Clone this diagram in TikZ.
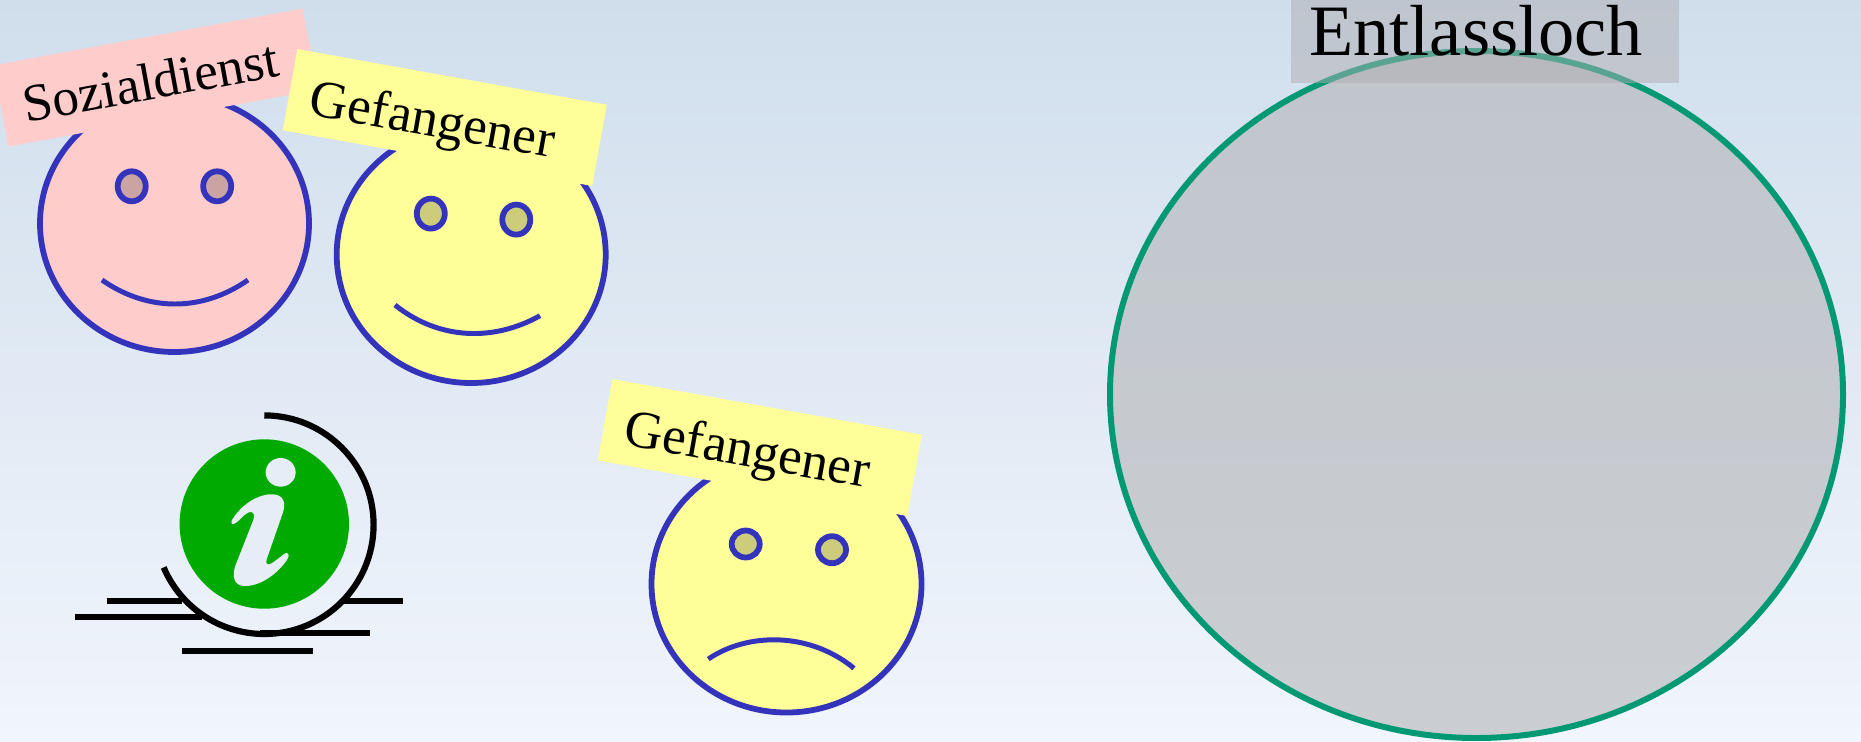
\documentclass[tikz,border=0pt]{standalone}
\usepackage{fontspec}
\setmainfont{Liberation Serif}
\definecolor{skytop}{RGB}{208,222,236}
\definecolor{skybottom}{RGB}{241,245,252}
\definecolor{faceline}{RGB}{51,51,187}
\definecolor{pinkface}{RGB}{255,204,204}
\definecolor{pinkeye}{RGB}{204,163,163}
\definecolor{yellowface}{RGB}{255,255,153}
\definecolor{yelloweye}{RGB}{204,204,122}
\definecolor{holeline}{RGB}{0,153,115}
\definecolor{holefill}{RGB}{183,185,188}
\definecolor{holetag}{RGB}{176,174,178}
\definecolor{infogreen}{RGB}{0,170,0}
\definecolor{infoglyph}{RGB}{231,237,247}

\begin{document}
\begin{tikzpicture}[x=0.02cm,y=-0.02cm,
  face/.style={draw=faceline,line width=5.8*0.5669pt},
  mouth/.style={draw=faceline,line width=5*0.5669pt},
  tag/.style={rotate=#1,inner xsep=12.5pt,inner ysep=0pt,text width=154pt,align=left,
    text height=35.5pt,text depth=11.5pt,font=\fontsize{30.2}{30.2}\selectfont},
  infoline/.style={line width=6.2*0.5669pt}]
  \useasboundingbox (0,0) rectangle (1861,741);
  \shade[top color=skytop,bottom color=skybottom] (0,0) rectangle (1861,741);

  \coordinate (P) at (174.5,223.5);
  \coordinate (Y) at (471.2,254.5);
  \coordinate (S) at (786.5,584);
  \coordinate (H) at (1476.5,394.5);
  \coordinate (I) at (264.3,524.7);

  \draw[face,fill=pinkface] (P) circle [x radius=134.5,y radius=128.5];
  \draw[face,fill=pinkeye] (131.7,186.3) circle [x radius=14,y radius=15];
  \draw[face,fill=pinkeye] (217.2,186.3) circle [x radius=14,y radius=15];
  \draw[mouth] (102,280) .. controls (148,312) and (202,312) .. (248,280);
  \node[tag=10.4,fill=pinkface] (sozial) at (155.5,77.5) {Sozialdienst};

  \draw[face,fill=yellowface] (Y) circle [x radius=134.5,y radius=128.5];
  \draw[face,fill=yelloweye] (430.8,213.6) circle [x radius=14,y radius=15];
  \draw[face,fill=yelloweye] (516.3,219.6) circle [x radius=14,y radius=15];
  \draw[mouth] (395,305) .. controls (440,341) and (495,341) .. (540,315.7);
  \node[tag=-10.2,fill=yellowface] (happy) at (444.8,117.5) {Gefangener};

  \draw[face,fill=yellowface] (S) circle [x radius=135,y radius=128.5];
  \draw[face,fill=yelloweye] (745.7,544) circle [x radius=14,y radius=13.5];
  \draw[face,fill=yelloweye] (832,549.7) circle [x radius=14,y radius=13.5];
  \draw[mouth] (708.3,659) .. controls (748,632) and (810,632) .. (854,668.3);
  \node[tag=-10.2,fill=yellowface] (sad) at (759.8,447.5) {Gefangener};

  \draw[draw=holeline,line width=6*0.5669pt,fill=holefill,fill opacity=.65,draw opacity=1]
    (H) circle [x radius=366.5,y radius=343.5];
  \node[fill=holetag,fill opacity=.5,text opacity=1,inner xsep=10.3pt,inner ysep=0pt,
    text width=200pt,align=left,text height=31.7pt,text depth=15.2pt,
    font=\fontsize{41.2}{41.2}\selectfont] (hole) at (1485,41.3) {Entlassloch};

  \fill[infogreen] (264.3,524) circle [radius=84.7];
  \draw[infoline] (I) ++(-90:109.3) arc [start angle=-90,end angle=157,radius=109.3];
  \draw[infoline] (106.7,601.3) -- (181.7,601.3);
  \draw[infoline] (343,601.3) -- (403.3,601.3);
  \draw[infoline] (75,616.7) -- (201.7,616.7);
  \draw[infoline] (260,633.3) -- (370,633.3);
  \draw[infoline] (182,651) -- (313,651);
  \begin{scope}[shift={(60,400)},scale=1/3]
    \fill[infoglyph] (662,217) circle [x radius=45,y radius=43];
    \fill[infoglyph] (515,362) .. controls (545,310) and (600,280) .. (640,283)
      .. controls (668,285) and (680,305) .. (668,340)
      -- (620,478) .. controls (615,500) and (630,495) .. (645,483)
      -- (675,460) .. controls (685,455) and (690,465) .. (682,478)
      .. controls (650,525) and (600,558) .. (555,558)
      .. controls (525,558) and (515,535) .. (525,500)
      -- (580,360) .. controls (588,330) and (570,330) .. (550,348)
      .. controls (535,365) and (510,385) .. (515,362) -- cycle;
  \end{scope}
\end{tikzpicture}
\end{document}
